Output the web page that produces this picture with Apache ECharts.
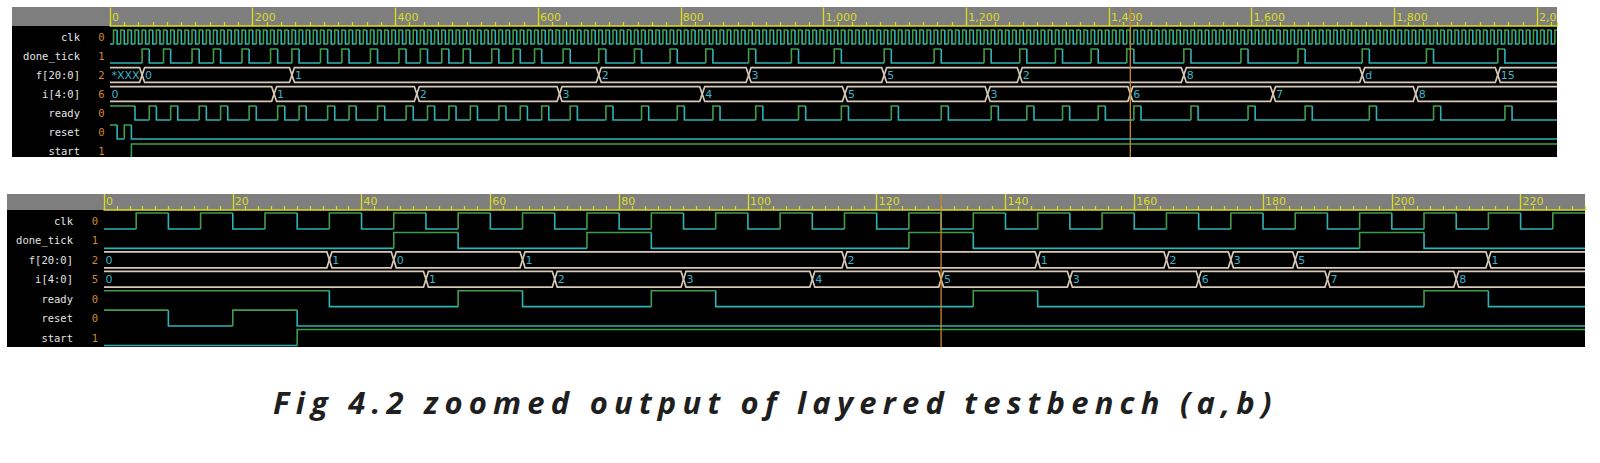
<!DOCTYPE html>
<html><head><meta charset="utf-8">
<script src="https://cdn.jsdelivr.net/npm/echarts@6/dist/echarts.min.js"></script>
<style>html,body{margin:0;padding:0;background:#fff}#c{width:1600px;height:463px}</style>
</head><body><div id="c"></div>
<script>
// ---------- data ----------
const signalNames = ['clk', 'done_tick', 'f[20:0]', 'i[4:0]', 'ready', 'reset', 'start'];
const cursorValuesA = ['0', '1', '2', '6', '0', '0', '1'];
const cursorValuesB = ['0', '1', '2', '5', '0', '0', '1'];
const tickValuesA = [0, 200, 400, 600, 800, 1000, 1200, 1400, 1600, 1800, 2000];
const tickLabelsA = ['0', '200', '400', '600', '800', '1,000', '1,200', '1,400', '1,600', '1,800', '2,0'];
const tickValuesB = [0, 20, 40, 60, 80, 100, 120, 140, 160, 180, 200, 220];
const tickLabelsB = ['0', '20', '40', '60', '80', '100', '120', '140', '160', '180', '200', '220'];
const cursorA = 1430;
const cursorB = 130;

// panel (a): toggle times of each 1-bit signal, with its starting level
const clkA_init = 0;
const clkA_toggles = [
5,10,15,20,25,30,35,40,45,50,55,60,65,70,75,80,85,90,95,100,
105,110,115,120,125,130,135,140,145,150,155,160,165,170,175,180,185,190,195,200,
205,210,215,220,225,230,235,240,245,250,255,260,265,270,275,280,285,290,295,300,
305,310,315,320,325,330,335,340,345,350,355,360,365,370,375,380,385,390,395,400,
405,410,415,420,425,430,435,440,445,450,455,460,465,470,475,480,485,490,495,500,
505,510,515,520,525,530,535,540,545,550,555,560,565,570,575,580,585,590,595,600,
605,610,615,620,625,630,635,640,645,650,655,660,665,670,675,680,685,690,695,700,
705,710,715,720,725,730,735,740,745,750,755,760,765,770,775,780,785,790,795,800,
805,810,815,820,825,830,835,840,845,850,855,860,865,870,875,880,885,890,895,900,
905,910,915,920,925,930,935,940,945,950,955,960,965,970,975,980,985,990,995,1000,
1005,1010,1015,1020,1025,1030,1035,1040,1045,1050,1055,1060,1065,1070,1075,1080,1085,1090,1095,1100,
1105,1110,1115,1120,1125,1130,1135,1140,1145,1150,1155,1160,1165,1170,1175,1180,1185,1190,1195,1200,
1205,1210,1215,1220,1225,1230,1235,1240,1245,1250,1255,1260,1265,1270,1275,1280,1285,1290,1295,1300,
1305,1310,1315,1320,1325,1330,1335,1340,1345,1350,1355,1360,1365,1370,1375,1380,1385,1390,1395,1400,
1405,1410,1415,1420,1425,1430,1435,1440,1445,1450,1455,1460,1465,1470,1475,1480,1485,1490,1495,1500,
1505,1510,1515,1520,1525,1530,1535,1540,1545,1550,1555,1560,1565,1570,1575,1580,1585,1590,1595,1600,
1605,1610,1615,1620,1625,1630,1635,1640,1645,1650,1655,1660,1665,1670,1675,1680,1685,1690,1695,1700,
1705,1710,1715,1720,1725,1730,1735,1740,1745,1750,1755,1760,1765,1770,1775,1780,1785,1790,1795,1800,
1805,1810,1815,1820,1825,1830,1835,1840,1845,1850,1855,1860,1865,1870,1875,1880,1885,1890,1895,1900,
1905,1910,1915,1920,1925,1930,1935,1940,1945,1950,1955,1960,1965,1970,1975,1980,1985,1990,1995,2000,
2005,2010,2015,2020,2025];
const doneA_init = 0;
const doneA_toggles = [45,55, 75,85, 115,125, 145,155, 185,195, 225,235, 255,265, 295,305, 325,335, 365,375,
  405,415, 435,445, 465,475, 495,505, 535,545, 565,575, 595,605, 635,645, 685,695, 735,745, 785,795, 835,845,
  895,905, 955,965, 1015,1025, 1085,1095, 1155,1165, 1225,1235, 1275,1285, 1325,1335, 1375,1385, 1425,1435,
  1505,1515, 1585,1595, 1665,1675, 1755,1765, 1845,1855, 1945,1955];
const readyA_init = 1;
const readyA_toggles = [35, 55,65, 85,95, 125,135, 155,165, 195,205, 235,245, 265,275, 305,315, 335,345, 375,385,
  415,425, 445,455, 475,485, 505,515, 545,555, 575,585, 605,615, 645,655, 695,705, 745,755, 795,805, 845,855,
  905,915, 965,975, 1025,1035, 1095,1105, 1165,1175, 1235,1245, 1285,1295, 1335,1345, 1385,1395, 1435,1445,
  1515,1525, 1595,1605, 1675,1685, 1765,1775, 1855,1865, 1955,1965];
const resetA_init = 1;
const resetA_toggles = [10, 20, 30];
const startA_init = 0;
const startA_toggles = [30];
// panel (a): buses
const fA_times = [0, 45, 255, 685, 895, 1085, 1275, 1505, 1755, 1945];
const fA_labels = ['*XXX', '0', '1', '2', '3', '5', '2', '8', 'd', '15'];
const iA_times = [0, 230, 430, 630, 830, 1030, 1230, 1430, 1630, 1830];
const iA_labels = ['0', '1', '2', '3', '4', '5', '3', '6', '7', '8'];

// panel (b)
const clkB_init = 0;
const clkB_toggles = [5,10,15,20,25,30,35,40,45,50,55,60,65,70,75,80,85,90,95,100,
  105,110,115,120,125,130,135,140,145,150,155,160,165,170,175,180,185,190,195,200,
  205,210,215,220,225];
const doneB_init = 0;
const doneB_toggles = [45, 55, 75, 85, 125, 135, 195, 205];
const readyB_init = 1;
const readyB_toggles = [35, 55, 65, 85, 95, 135, 145, 205, 215];
const resetB_init = 1;
const resetB_toggles = [10, 20, 30];
const startB_init = 0;
const startB_toggles = [30];
const fB_times = [0, 35, 45, 65, 115, 145, 165, 175, 185, 215];
const fB_labels = ['0', '1', '0', '1', '2', '1', '2', '3', '5', '1'];
const iB_times = [0, 50, 70, 90, 110, 130, 150, 170, 190, 210];
const iB_labels = ['0', '1', '2', '3', '4', '5', '3', '6', '7', '8'];

const caption = 'Fig 4.2 zoomed output of layered testbench (a,b)';

// ---------- style ----------
const HIGH = '#3f9e47', LOW = '#2fb3b6', BUS = '#d6cab6', VAL = '#3ab5cb';
const YEL = '#dcdc22', GRAY = '#7e7e7e', CUR = '#c98a2a', ORANGE = '#d48a2c';

function digital(init, toggles, row, tMax) {
  const segs = []; let lvl = init, t0 = 0, prev = -1;
  for (const t of toggles) { segs.push([t0, t, lvl, row, prev]); prev = lvl; lvl = 1 - lvl; t0 = t; }
  segs.push([t0, tMax, lvl, row, prev]);
  return segs;
}
function bus(times, row, tMax) {
  return times.map((t, k) => [t, k + 1 < times.length ? times[k + 1] : tMax, row, k === 0 ? 1 : 0, k + 1 < times.length ? 0 : 1]);
}

function digitalSeries(data, amp) {
  return {
    type: 'custom', clip: true, data: data,
    encode: { x: [0, 1], y: 3 },
    renderItem(p, api) {
      const t0 = api.value(0), t1 = api.value(1), lvl = api.value(2), row = api.value(3), prev = api.value(4);
      const yOf = v => api.coord([t0, row + (v ? -amp : amp)])[1];
      const x0 = api.coord([t0, row])[0], x1 = api.coord([t1, row])[0];
      const pts = [];
      if (prev === 0 || prev === 1) pts.push([x0, yOf(prev)]);
      pts.push([x0, yOf(lvl)], [x1, yOf(lvl)]);
      return { type: 'polyline', shape: { points: pts }, style: { stroke: lvl ? HIGH : LOW, lineWidth: 1.6, fill: null } };
    }
  };
}
function busSeries(data, labels, amp) {
  return {
    type: 'custom', clip: true, data: data,
    encode: { x: [0, 1], y: 2 },
    renderItem(p, api) {
      const t0 = api.value(0), t1 = api.value(1), row = api.value(2), first = api.value(3), last = api.value(4);
      const xa = api.coord([t0, row])[0], xb = api.coord([t1, row])[0];
      const ym = api.coord([t0, row])[1], yt = api.coord([t0, row - amp])[1], yb = api.coord([t0, row + amp])[1];
      const d = 2.5;
      const top = [], bot = [];
      if (first) { top.push([xa, yt]); bot.push([xa, yb]); }
      else { top.push([xa, ym], [xa + d, yt]); bot.push([xa, ym], [xa + d, yb]); }
      if (last) { top.push([xb, yt]); bot.push([xb, yb]); }
      else { top.push([xb - d, yt], [xb, ym]); bot.push([xb - d, yb], [xb, ym]); }
      const st = { stroke: BUS, lineWidth: 1.7, fill: null };
      return { type: 'group', children: [
        { type: 'polyline', shape: { points: top }, style: st },
        { type: 'polyline', shape: { points: bot }, style: st },
        { type: 'text', style: { text: labels[p.dataIndex], x: xa + (first ? 1.5 : 3), y: ym + 0.5, verticalAlign: 'middle',
          fill: VAL, font: '11px "DejaVu Sans"' } }
      ] };
    }
  };
}
function nameSeries(values, nameOff, valOff) {
  return {
    type: 'custom', clip: false,
    data: signalNames.map((n, k) => [0, k]), encode: { x: 0, y: 1 },
    renderItem(p, api) {
      const c = api.coord([0, api.value(1)]);
      return { type: 'group', children: [
        { type: 'text', style: { text: signalNames[p.dataIndex], x: c[0] - nameOff, y: c[1], align: 'right', verticalAlign: 'middle',
          fill: '#e4e4e4', font: '10.5px "DejaVu Sans Mono"' } },
        { type: 'text', style: { text: values[p.dataIndex], x: c[0] - valOff, y: c[1], align: 'center', verticalAlign: 'middle',
          fill: ORANGE, font: '10.5px "DejaVu Sans Mono"' } }
      ] };
    }
  };
}
function cursorSeries(t, headerH) {
  return {
    type: 'custom', clip: false, data: [[t]], encode: { x: 0 }, z: 5,
    renderItem(p, api) {
      const ext = api.coord([api.value(0), 0]);
      const sz = p.coordSys;
      return { type: 'line', shape: { x1: ext[0], y1: sz.y - headerH, x2: ext[0], y2: sz.y + sz.height },
        style: { stroke: CUR, lineWidth: 1.3 } };
    }
  };
}

const maxA = 2028, maxB = 230;
function xAxes(gi, max, tickVals, tickLabels, minorInt, headerH) {
  return [
    { type: 'value', gridIndex: gi, position: 'top', min: 0, max: max, interval: tickVals[1] - tickVals[0],
      axisLine: { show: true, onZero: false, lineStyle: { color: YEL, width: 1.5 } },
      axisTick: { show: true, customValues: tickVals, length: headerH, lineStyle: { color: YEL, width: 1.3 } },
      axisLabel: { show: true, customValues: tickVals, color: YEL, fontSize: 11, fontFamily: 'DejaVu Sans', align: 'left', margin: 3,
        padding: [0, 0, 0, 2], formatter: v => { const k = tickVals.indexOf(v); return k >= 0 ? tickLabels[k] : ''; } },
      splitLine: { show: false } },
    { type: 'value', gridIndex: gi, position: 'top', min: 0, max: max, interval: minorInt,
      axisLine: { show: false, onZero: false }, axisLabel: { show: false }, splitLine: { show: false },
      axisTick: { show: true, length: 4, lineStyle: { color: YEL, width: 1.2 } } }
  ];
}

const rowsA = { min: -0.579, max: 6.316 }, rowsB = { min: -0.566, max: 6.488 };
const ampA = 0.37, ampB = 0.41;

const option = {
  animation: false,
  backgroundColor: '#ffffff',
  graphic: [
    { type: 'rect', z: -10, shape: { x: 12, y: 7.5, width: 1545, height: 149.5 }, style: { fill: '#000' } },
    { type: 'rect', z: -9, shape: { x: 12, y: 7.5, width: 1545, height: 18.5 }, style: { fill: GRAY } },
    { type: 'rect', z: -10, shape: { x: 7, y: 194, width: 1578, height: 153 }, style: { fill: '#000' } },
    { type: 'rect', z: -9, shape: { x: 7, y: 194, width: 1578, height: 16 }, style: { fill: GRAY } }
  ],
  title: { text: caption, left: 268, top: 381,
    textStyle: { fontFamily: 'Open Sans', fontStyle: 'italic', fontWeight: 'bold', fontSize: 31, color: '#1f1f1f' } },
  grid: [
    { left: 110, top: 26, width: 1447, height: 131 },
    { left: 104, top: 210, width: 1481, height: 137 }
  ],
  xAxis: [].concat(xAxes(0, maxA, tickValuesA, tickLabelsA, 20, 18.5), xAxes(1, maxB, tickValuesB, tickLabelsB, 2, 16)),
  yAxis: [
    { type: 'value', gridIndex: 0, inverse: true, min: rowsA.min, max: rowsA.max, show: false },
    { type: 'value', gridIndex: 1, inverse: true, min: rowsB.min, max: rowsB.max, show: false }
  ],
  series: []
};
// xAxis 0 (A main), 1 (A minor), 2 (B main), 3 (B minor); yAxis 0 (A), 1 (B)
function S(s, xi, yi) { s.xAxisIndex = xi; s.yAxisIndex = yi; return s; }
option.series.push(
  S(digitalSeries(digital(clkA_init, clkA_toggles, 0, maxA), ampA), 0, 0),
  S(digitalSeries(digital(doneA_init, doneA_toggles, 1, maxA), ampA), 0, 0),
  S(busSeries(bus(fA_times, 2, maxA), fA_labels, 0.39), 0, 0),
  S(busSeries(bus(iA_times, 3, maxA), iA_labels, 0.39), 0, 0),
  S(digitalSeries(digital(readyA_init, readyA_toggles, 4, maxA), ampA), 0, 0),
  S(digitalSeries(digital(resetA_init, resetA_toggles, 5, maxA), ampA), 0, 0),
  S(digitalSeries(digital(startA_init, startA_toggles, 6, maxA), ampA), 0, 0),
  S(nameSeries(cursorValuesA, 30, 8.5), 0, 0),
  S(cursorSeries(cursorA, 18.5), 0, 0),

  S(digitalSeries(digital(clkB_init, clkB_toggles, 0, maxB), ampB), 2, 1),
  S(digitalSeries(digital(doneB_init, doneB_toggles, 1, maxB), ampB), 2, 1),
  S(busSeries(bus(fB_times, 2, maxB), fB_labels, 0.41), 2, 1),
  S(busSeries(bus(iB_times, 3, maxB), iB_labels, 0.41), 2, 1),
  S(digitalSeries(digital(readyB_init, readyB_toggles, 4, maxB), ampB), 2, 1),
  S(digitalSeries(digital(resetB_init, resetB_toggles, 5, maxB), ampB), 2, 1),
  S(digitalSeries(digital(startB_init, startB_toggles, 6, maxB), ampB), 2, 1),
  S(nameSeries(cursorValuesB, 31, 9), 2, 1),
  S(cursorSeries(cursorB, 16), 2, 1)
);
const chart = echarts.init(document.getElementById('c'), null, { renderer: 'svg' });
chart.setOption(option);
// letter-spaced caption, as in the figure
document.querySelectorAll('#c text').forEach(el => {
  if (el.textContent === caption) { el.setAttribute('letter-spacing', '6.2'); el.style.letterSpacing = '6.2px'; }
});
</script></body></html>
